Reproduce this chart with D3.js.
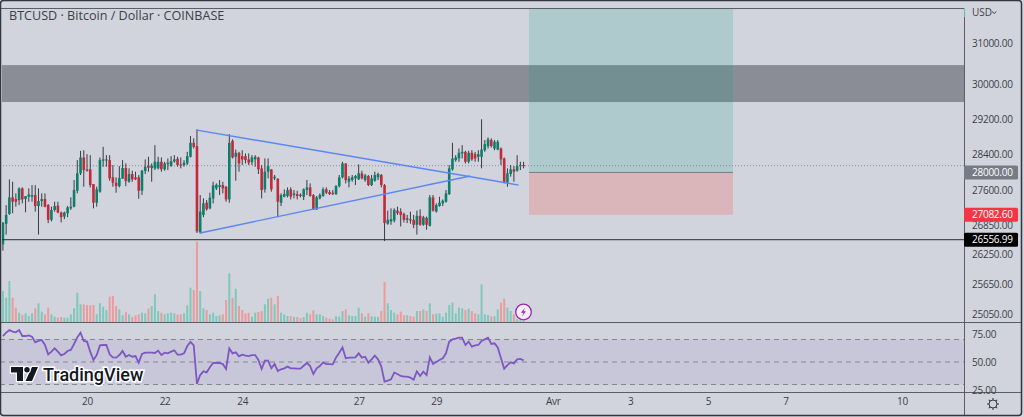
<!DOCTYPE html>
<html lang="fr">
<head>
    <meta charset="UTF-8">
    <title>BTCUSD - Bitcoin / Dollar - COINBASE</title>
    <script src="https://d3js.org/d3.v7.min.js"></script>
    <style>
        html, body { margin: 0; padding: 0; background: #d1d4dc; overflow: hidden; }
        svg { display: block; }
        text { font-family: "Open Sans", sans-serif; fill: #3c3f49; }
        .axis path, .axis line { display: none; }
        .axis text, .tag text { font-family: "Open Sans", sans-serif; font-size: 10px; letter-spacing: -0.25px; fill: #3c3f49; }
    </style>
</head>
<body>
    <svg width="1024" height="417"></svg>
    <script>
        const width = 1024;
        const height = 417;

        // 2h candles, first one opens 17 Mar 20:00 UTC
        const firstCandle = Date.UTC(2023, 2, 17, 20);
        const candleMs = 2 * 3600 * 1000;

        const opens = [26460,26892,27100,27456,27420,27398,27651,27420,27470,27470,27507,27270,27376,27420,27290,26975,27186,27278,27130,27045,27115,27220,27256,27600,27980,28331,28068,28068,27745,27341,27580,28258,28273,28273,27892,27774,27700,27862,28097,27796,27965,27892,27892,27600,28031,28148,28097,28090,28090,28236,28068,28184,28140,28243,28302,28177,28163,28199,28346,28660,28585,26712,27080,27341,27220,27434,27651,27680,27723,27687,27412,28705,28346,28435,28360,28360,28288,28228,28288,28331,28090,27630,28016,28068,27870,27862,27341,27470,27485,27630,27507,27528,27514,27470,27615,27672,27507,27200,27434,27485,27630,27572,27557,27528,27701,27892,28199,27796,27833,27870,27848,27980,27833,27921,27723,27818,27892,27943,27723,26892,26940,26961,27172,27150,27100,26975,26990,26975,26871,27060,26871,27017,26850,27456,27150,27270,27327,27362,27528,28068,28273,28309,28420,28457,28236,28435,28405,28346,28346,28494,28585,28721,28532,28509,28532,28309,27774,27965,28068,28038,28140,28163];
        const highs = [26920,27290,27848,27796,27543,27673,27673,27485,27651,27723,27723,27651,27543,27543,27312,27256,27362,27362,27150,27150,27270,27456,27833,28273,28479,28494,28405,28383,27745,27687,28331,28570,28383,28383,28163,27892,28140,28273,28199,28090,28038,28016,27943,28053,28288,28346,28199,28607,28346,28331,28236,28309,28360,28383,28346,28331,28273,28457,28812,28760,28965,27507,27434,27398,27557,27796,27759,27833,27796,27701,28858,28736,28509,28457,28494,28420,28420,28383,28383,28346,28163,28310,28310,28068,27943,27870,27543,27630,27672,27672,27615,27600,27543,27651,27833,27759,27528,27485,27543,27672,27672,27615,27615,27723,27943,28236,28199,27921,27943,27943,28177,28038,27965,27943,27943,28016,27994,27965,27745,27172,27220,27220,27256,27220,27130,27080,27150,27080,27172,27200,27060,27045,27507,27507,27327,27470,27412,27615,28163,28660,28383,28532,28607,28479,28479,28494,28457,28494,29194,28721,28782,28760,28721,28721,28555,28331,28090,28163,28140,28383,28236,28236];
        const lows = [26330,26664,27080,27115,27256,27290,27327,27136,27362,27362,27150,26664,27256,27242,26906,26940,27150,27115,26920,26990,27031,27186,27242,27543,27943,27687,28016,27672,27220,27256,27557,28126,28126,27818,27687,27557,27672,27862,27700,27774,27796,27833,27427,27507,27965,28016,27796,28053,28068,28016,28038,28053,28126,28214,28126,28090,28126,28163,28331,28532,26698,26684,27031,27172,27200,27327,27615,27507,27543,27362,27341,28309,27818,28016,28163,28199,28163,28163,28126,27965,27434,27560,27870,27580,27833,27031,27270,27456,27456,27412,27434,27412,27456,27398,27507,27470,27186,27186,27412,27470,27528,27507,27507,27507,27672,27870,27759,27672,27796,27723,27833,27848,27796,27701,27701,27796,27833,27672,26528,26871,26871,26920,27080,26836,26920,26906,26892,26800,26664,26850,26850,26767,26836,27150,27130,27256,27270,27341,27507,28038,28236,28236,28309,28199,28199,28258,28236,28236,28090,28457,28532,28555,28494,28494,28163,27759,27687,27907,27796,28016,28053,28090];
        const closes = [26920,27080,27456,27362,27362,27651,27412,27485,27521,27507,27270,27376,27420,27256,26975,27186,27270,27130,27031,27130,27242,27256,27615,27980,28331,28053,28038,27723,27341,27630,28273,28288,28288,27870,27774,27700,27877,28097,27811,27965,27848,27848,27600,28038,28126,28104,28148,28236,28236,28068,28199,28214,28250,28288,28163,28148,28214,28360,28660,28570,26732,27150,27327,27200,27449,27716,27730,27723,27651,27412,28660,28331,28435,28199,28288,28273,28214,28331,28346,28068,27615,28016,28140,27630,27907,27362,27507,27528,27615,27470,27543,27485,27485,27630,27672,27485,27200,27456,27507,27630,27557,27528,27528,27701,27892,28199,27833,27870,27892,27921,27980,27870,27936,27723,27870,27943,27965,27723,26906,26975,26990,27186,27115,27080,26975,27010,26961,26871,27060,26871,27031,26871,27456,27172,27290,27341,27384,27543,28090,28309,28331,28435,28457,28236,28435,28288,28309,28405,28509,28630,28736,28585,28683,28683,28288,27796,27980,28068,28016,28140,28163,28140];
        const volumes = [1860,1460,2460,1460,860,560,420,520,360,520,820,1120,620,460,860,460,320,260,300,260,260,460,820,1760,1060,1060,1020,1000,1020,460,1120,920,720,1520,1560,960,760,400,600,460,300,400,460,560,520,820,960,1660,660,560,460,520,560,520,440,460,520,1000,2060,1920,4820,1860,820,720,460,560,360,400,460,1320,2920,1460,2000,960,720,520,560,320,560,600,660,1060,1400,1460,1060,1560,560,460,360,360,300,300,220,300,560,460,700,460,460,360,260,200,160,340,320,660,760,400,360,360,860,520,320,520,340,320,300,660,2420,1120,720,560,460,620,400,400,360,320,660,660,760,660,1120,460,500,520,320,560,1020,1160,520,860,820,720,800,660,520,460,2260,460,420,340,340,760,1160,1400,860,660,460,160,100,60];
        const rsiValues = [73.1,76.1,78.4,77,76.4,78.4,73.1,73.1,73.7,72.5,67.5,68.7,69.6,65.1,56.8,59.2,62.1,59.2,55.9,57.1,59.8,60.7,66,71.9,76.1,68.7,68.1,59.2,51.8,56.2,64.8,65.1,65.1,56.8,54.1,53.9,56.2,59.8,54.7,56.2,54.7,55.3,49.4,57.1,58.3,58.3,58.3,58,60.1,56.2,58.3,57.7,59.2,60.4,56.5,56.5,57.7,64.2,67.8,64.8,30.4,38.4,41.7,40.8,45.3,49.1,49.1,49.1,48.2,43.8,62.1,57.7,58.6,55,56.5,55.6,55.3,56.2,56.2,51.8,43.8,51.2,51.2,44.4,48.2,42,43.5,44.4,45.9,44.4,44.4,44.1,44.1,46.7,49.1,46.4,39.3,44.4,46.4,49.7,48.2,48.2,47.9,54.1,58.3,63,53.3,53.9,53.9,54.1,57.7,53.9,54.7,49.4,52.4,55.6,52.4,45.9,32.5,33.4,34.6,40.5,39.3,37.6,37,37,36.1,34.3,41.7,37.6,41.4,38.4,54.1,48.2,50,51.8,53.3,57.7,68.1,70.1,70.7,71.6,71.6,65.1,68.1,63.6,64.8,65.1,68.7,70.1,71.6,66,66.6,63,53.3,44.1,47.3,49.7,48.8,52.4,52.7,51.5];

        // Axis ticks
        const priceTicks = [31000, 30000, 29200, 28400, 27600, 26850, 26250, 25650, 25050];
        const rsiTicks = [75, 50, 25];
        const rsiBands = [70, 50, 30];
        const dateTicks = [
            Date.UTC(2023, 2, 20), Date.UTC(2023, 2, 22), Date.UTC(2023, 2, 24), Date.UTC(2023, 2, 27),
            Date.UTC(2023, 2, 29), Date.UTC(2023, 3, 1), Date.UTC(2023, 3, 3), Date.UTC(2023, 3, 5),
            Date.UTC(2023, 3, 7), Date.UTC(2023, 3, 10)
        ];
        const dateLabels = ["20", "22", "24", "27", "29", "Avr", "3", "5", "7", "10"];

        // Drawings on the chart
        const lastPrice = 28148;
        const supportLevel = 26556.99;
        const zonePrices = [30466, 29594];
        const targetPrice = 31840;
        const entryPrice = 28000;
        const stopPrice = 27082.60;
        const positionTimes = [Date.UTC(2023, 2, 31, 9, 20), Date.UTC(2023, 3, 5, 15, 30)];
        const upperTrend = [[Date.UTC(2023, 2, 22, 20), 28948], [Date.UTC(2023, 2, 31, 3), 27723]];
        const lowerTrend = [[Date.UTC(2023, 2, 22, 22), 26698], [Date.UTC(2023, 2, 29, 21), 27921]];

        const UP = "#0b7f6b";
        const DOWN = "#c4293a";
        const UP_VOL = "#7ec8bc";
        const DOWN_VOL = "#ec9b9c";
        const AXIS_X = 964;
        const PANE_LINE = "#5b5e68";

        const svg = d3.select("svg");

        const x = d3.scaleUtc()
            .domain([Date.UTC(2023, 2, 20), Date.UTC(2023, 3, 10)])
            .range([87, 902]);
        const y = d3.scaleLog().domain([25050, 31000]).range([314, 43]);
        const yVol = d3.scaleLinear().domain([0, 4820]).range([322, 241.7]);
        const yRsi = d3.scaleLinear().domain([50, 70]).range([362, 339.5]);
        const candleX = i => x(firstCandle + i * candleMs);

        svg.append("clipPath").attr("id", "main-clip")
            .append("rect").attr("x", 2).attr("y", 9).attr("width", AXIS_X - 2).attr("height", 313);

        const main = svg.append("g").attr("clip-path", "url(#main-clip)");

        // resistance zone
        main.append("rect")
            .attr("x", 0).attr("width", AXIS_X)
            .attr("y", y(zonePrices[0]))
            .attr("height", y(zonePrices[1]) - y(zonePrices[0]))
            .attr("fill", "rgba(50,55,65,0.45)");

        // last price dotted line
        main.append("line")
            .attr("x1", 0).attr("x2", AXIS_X)
            .attr("y1", y(lastPrice)).attr("y2", y(lastPrice))
            .attr("stroke", "#8b8e96").attr("stroke-dasharray", "1 2");

        // volume
        main.selectAll(".vol").data(volumes).enter().append("rect")
            .attr("class", "vol")
            .attr("x", (d, i) => candleX(i) - 1)
            .attr("width", 2)
            .attr("y", d => yVol(d))
            .attr("height", d => yVol(0) - yVol(d))
            .attr("fill", (d, i) => closes[i] >= opens[i] ? UP_VOL : DOWN_VOL);

        // candles
        main.selectAll(".wick").data(opens).enter().append("line")
            .attr("class", "wick")
            .attr("x1", (d, i) => candleX(i)).attr("x2", (d, i) => candleX(i))
            .attr("y1", (d, i) => y(highs[i])).attr("y2", (d, i) => y(lows[i]))
            .attr("stroke", "#3a3c42").attr("stroke-width", 1);

        main.selectAll(".body").data(opens).enter().append("rect")
            .attr("class", "body")
            .attr("x", (d, i) => candleX(i) - 1.3)
            .attr("width", 2.6)
            .attr("y", (d, i) => y(Math.max(d, closes[i])))
            .attr("height", (d, i) => Math.max(1, Math.abs(y(d) - y(closes[i]))))
            .attr("fill", (d, i) => closes[i] >= d ? UP : DOWN);

        // long position box
        main.append("rect")
            .attr("x", x(positionTimes[0])).attr("width", x(positionTimes[1]) - x(positionTimes[0]))
            .attr("y", y(targetPrice)).attr("height", y(entryPrice) - y(targetPrice))
            .attr("fill", "rgba(8,153,129,0.17)");
        main.append("rect")
            .attr("x", x(positionTimes[0])).attr("width", x(positionTimes[1]) - x(positionTimes[0]))
            .attr("y", y(entryPrice)).attr("height", y(stopPrice) - y(entryPrice))
            .attr("fill", "rgba(255,60,50,0.2)");
        main.append("line")
            .attr("x1", x(positionTimes[0])).attr("x2", x(positionTimes[1]))
            .attr("y1", y(entryPrice)).attr("y2", y(entryPrice))
            .attr("stroke", "#787b86");

        // support line and triangle
        main.append("line")
            .attr("x1", 0).attr("x2", AXIS_X)
            .attr("y1", y(supportLevel)).attr("y2", y(supportLevel))
            .attr("stroke", "#2a2c33").attr("stroke-width", 1);

        const trend = d3.line().x(d => x(d[0])).y(d => y(d[1]));
        main.selectAll(".trend").data([upperTrend, lowerTrend]).enter().append("path")
            .attr("class", "trend")
            .attr("d", trend)
            .attr("fill", "none")
            .attr("stroke", "#5b86f2")
            .attr("stroke-width", 1.4);

        // RSI pane
        svg.append("rect")
            .attr("x", 0).attr("width", AXIS_X)
            .attr("y", yRsi(rsiBands[0]))
            .attr("height", yRsi(rsiBands[2]) - yRsi(rsiBands[0]))
            .attr("fill", "rgba(126,87,194,0.1)");

        svg.selectAll(".band").data(rsiBands).enter().append("line")
            .attr("class", "band")
            .attr("x1", 0).attr("x2", AXIS_X)
            .attr("y1", d => yRsi(d)).attr("y2", d => yRsi(d))
            .attr("stroke", "#85868f")
            .attr("stroke-dasharray", "5 4");

        const rsiLine = d3.line().x((d, i) => candleX(i)).y(d => yRsi(d));
        svg.append("path")
            .datum(rsiValues)
            .attr("d", rsiLine)
            .attr("fill", "none")
            .attr("stroke", "#7e57c2")
            .attr("stroke-width", 1.8);

        // pane separators and frame
        const hLines = [[0, width - 3, 322.5], [0, width - 3, 392.5], [0, AXIS_X, 8.5]];
        svg.selectAll(".sep").data(hLines).enter().append("line")
            .attr("class", "sep")
            .attr("x1", d => d[0]).attr("x2", d => d[1])
            .attr("y1", d => d[2]).attr("y2", d => d[2])
            .attr("stroke", PANE_LINE).attr("stroke-width", 1);
        svg.append("line")
            .attr("x1", AXIS_X + 0.5).attr("x2", AXIS_X + 0.5)
            .attr("y1", 8).attr("y2", 415)
            .attr("stroke", PANE_LINE);
        svg.append("line")
            .attr("x1", AXIS_X + 0.5).attr("x2", AXIS_X + 0.5)
            .attr("y1", 8).attr("y2", 17)
            .attr("stroke", "#5fc4b4").attr("stroke-width", 1.2);
        svg.append("rect")
            .attr("x", 0.5).attr("y", 0.5)
            .attr("width", width - 3).attr("height", height - 2)
            .attr("rx", 3)
            .attr("fill", "none").attr("stroke", "#33363f").attr("stroke-width", 1.5);

        // axes
        svg.append("g").attr("class", "axis")
            .attr("transform", `translate(${AXIS_X},0)`)
            .call(d3.axisRight(y).tickValues(priceTicks).tickFormat(d3.format(".2f")).tickSize(0).tickPadding(8));
        svg.append("g").attr("class", "axis")
            .attr("transform", `translate(${AXIS_X},0)`)
            .call(d3.axisRight(yRsi).tickValues(rsiTicks).tickFormat(d3.format(".2f")).tickSize(0).tickPadding(8));
        svg.append("g").attr("class", "axis")
            .attr("transform", "translate(0,398)")
            .call(d3.axisBottom(x).tickValues(dateTicks)
                .tickFormat((d, i) => dateLabels[i]).tickSize(0).tickPadding(0));

        // price tags on the scale
        const tags = [
            {value: entryPrice, fill: "#787b86", color: "#ffffff"},
            {value: stopPrice, fill: "#f23645", color: "#ffffff"},
            {value: supportLevel, fill: "#000000", color: "#ffffff"}
        ];
        const tag = svg.selectAll(".tag").data(tags).enter().append("g")
            .attr("class", "tag")
            .attr("transform", d => `translate(${AXIS_X},${y(d.value)})`);
        tag.append("rect")
            .attr("x", 0).attr("y", -7).attr("width", 54).attr("height", 14).attr("rx", 1.5)
            .attr("fill", d => d.fill);
        tag.append("text")
            .attr("x", 8).attr("dy", "0.36em")
            .style("fill", d => d.color)
            .text(d => d3.format(".2f")(d.value));

        // currency and title
        svg.append("text").attr("x", 972).attr("y", 16).style("font-size", "10px").text("USD");
        svg.append("path").attr("d", "M992 11.5l2.2 2 2.2-2").attr("fill", "none").attr("stroke", "#3c3f49");
        svg.append("text").attr("x", 9).attr("y", 20).style("font-size", "12.6px")
            .text("BTCUSD · Bitcoin / Dollar · COINBASE");

        // settings gear
        const gear = svg.append("g").attr("transform", "translate(993,404)")
            .attr("fill", "none").attr("stroke", "#33363f").attr("stroke-width", 1);
        gear.append("circle").attr("r", 4);
        gear.selectAll("line").data(d3.range(8)).enter().append("line")
            .attr("y1", -4).attr("y2", -6)
            .attr("transform", d => `rotate(${d * 45})`);

        // alert badge
        const badge = svg.append("g").attr("transform", "translate(523.5,312)");
        badge.append("circle").attr("r", 7.8).attr("fill", "#f5eef7").attr("stroke", "#9c27b0").attr("stroke-width", 1.3);
        badge.append("path").attr("d", "M1.5-4.5L-2.5 0.8H0L-1.5 4.5L2.5-0.8H0Z").attr("fill", "#9c27b0");

        // TradingView watermark
        const mark = svg.append("g").attr("transform", "translate(11,367)");
        mark.append("path")
            .attr("d", "M0 0H12V14H6V5.5H0ZM21 0H27L21 14H14.5Z")
            .attr("fill", "#131722").attr("stroke", "#fff").attr("stroke-width", 2.4)
            .attr("paint-order", "stroke");
        mark.append("circle").attr("cx", 16).attr("cy", 2.7).attr("r", 2.7)
            .attr("fill", "#131722").attr("stroke", "#fff").attr("stroke-width", 2.4)
            .attr("paint-order", "stroke");
        svg.append("text").attr("x", 43).attr("y", 381)
            .attr("paint-order", "stroke")
            .style("font-family", "Roboto, sans-serif")
            .style("font-size", "18px").style("font-weight", 500)
            .style("fill", "#131722").style("stroke", "#fff").style("stroke-width", 3)
            .text("TradingView");
    </script>
</body>
</html>
